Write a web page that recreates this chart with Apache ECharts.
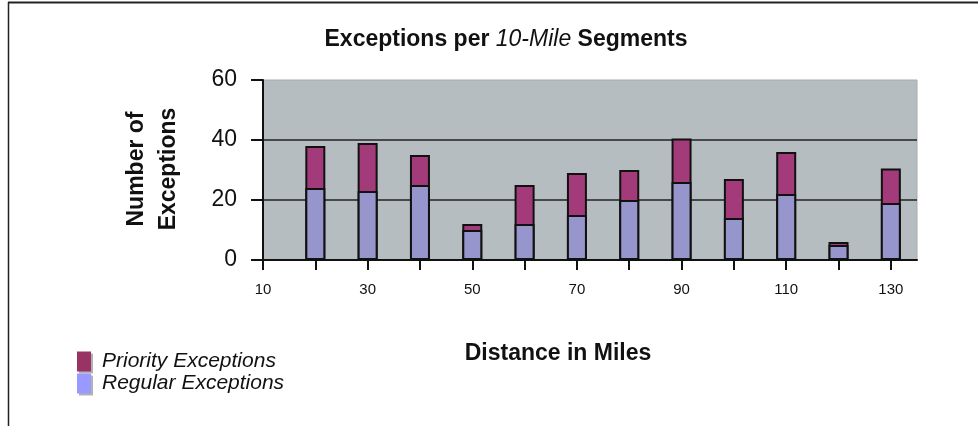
<!DOCTYPE html>
<html>
<head>
<meta charset="utf-8">
<script src="https://cdn.jsdelivr.net/npm/echarts@6/dist/echarts.min.js"></script>
<style>
html,body{margin:0;padding:0;background:#fff;}
#c{width:978px;height:426px;}
</style>
</head>
<body>
<div id="c"></div>
<script>
var distances = [20, 30, 40, 50, 60, 70, 80, 90, 100, 110, 120, 130];
var regular = [24, 23, 25, 10, 12, 15, 20, 26, 14, 22, 5, 19];
var priority = [14, 16, 10, 2, 13, 14, 10, 14.5, 13, 14, 1, 11.5];
var xTickLabels = [10, 30, 50, 70, 90, 110, 130];
var xTickMarks = [10, 20, 30, 40, 50, 60, 70, 80, 90, 100, 110, 120, 130];

var FONT = '"Liberation Sans", Arial, Helvetica, sans-serif';
// Stacked bars on a value x-axis: the priority segment sits on top of the regular one,
// so its bar spans from 0 to regular + priority and the regular bar is drawn over it.
var totals = regular.map(function(r, i){ return r + priority[i]; });
function pairs(vals){ return distances.map(function(d,i){ return [d, vals[i]]; }); }

var chart = echarts.init(document.getElementById('c'));
chart.setOption({
  animation: false,
  backgroundColor: '#ffffff',
  textStyle: { fontFamily: FONT },
  grid: {
    left: 263, right: 61, top: 80, bottom: 166,
    show: true, backgroundColor: '#b6bdc0', borderColor: '#a6acae', borderWidth: 1
  },
  legend: {
    orient: 'vertical', left: 72, top: 346,
    itemWidth: 14, itemHeight: 20, itemGap: 1,
    selectedMode: false,
    textStyle: { fontFamily: FONT, fontSize: 21, fontStyle: 'italic', color: '#111', padding: [0,0,0,6] },
    data: [
      { name: 'Priority Exceptions', icon: 'rect', itemStyle: { color: '#993366', borderWidth: 0, shadowColor: 'rgba(0,0,0,0.3)', shadowOffsetX: 2, shadowOffsetY: 2 } },
      { name: 'Regular Exceptions', icon: 'rect', itemStyle: { color: '#9999ff', borderWidth: 0, shadowColor: 'rgba(0,0,0,0.3)', shadowOffsetX: 2, shadowOffsetY: 2 } }
    ]
  },
  xAxis: {
    type: 'value', min: 10, max: 135, interval: 10,
    axisLine: { show: true, onZero: true, lineStyle: { color: '#111', width: 2 } },
    axisTick: { show: true, length: 10, inside: false, customValues: xTickMarks, lineStyle: { color: '#111', width: 2 } },
    axisLabel: { show: true, customValues: xTickLabels, fontSize: 15, color: '#111', margin: 22, fontFamily: FONT },
    splitLine: { show: false }
  },
  yAxis: {
    type: 'value', min: 0, max: 60, interval: 20,
    axisLine: { show: true, lineStyle: { color: '#111', width: 2 } },
    axisTick: { show: true, length: 12, inside: false, lineStyle: { color: '#111', width: 2 } },
    axisLabel: { fontSize: 23, color: '#111', margin: 26, fontFamily: FONT },
    splitLine: { show: true, showMinLine: false, showMaxLine: false, lineStyle: { color: '#222', width: 1.5 } }
  },
  series: [
    {
      name: 'Priority Exceptions', type: 'bar', barWidth: 20, barGap: '-100%',
      itemStyle: { color: '#a33b7a', borderColor: '#111', borderWidth: 2 },
      data: pairs(totals)
    },
    {
      name: 'Regular Exceptions', type: 'bar', barWidth: 20, barGap: '-100%',
      itemStyle: { color: '#9696cc', borderColor: '#111', borderWidth: 2 },
      data: pairs(regular)
    }
  ],
  graphic: [
    { type: 'line', shape: { x1: 8, y1: 2.5, x2: 978, y2: 2.5 }, style: { stroke: '#222', lineWidth: 2 } },
    { type: 'line', shape: { x1: 8.5, y1: 2, x2: 8.5, y2: 426 }, style: { stroke: '#222', lineWidth: 1.5 } },
    {
      type: 'text', x: 506, y: 40,
      style: {
        text: '{b|Exceptions per }{i|10-Mile}{b| Segments}',
        align: 'center', verticalAlign: 'middle',
        rich: {
          b: { fontFamily: FONT, fontSize: 23, fontWeight: 'bold', fill: '#111' },
          i: { fontFamily: FONT, fontSize: 23, fontStyle: 'italic', fill: '#111' }
        }
      }
    },
    {
      type: 'text', x: 153, y: 169, rotation: Math.PI / 2,
      style: {
        text: 'Number of\nExceptions', align: 'center', verticalAlign: 'middle',
        fontFamily: FONT, fontSize: 23, fontWeight: 'bold', fill: '#111', lineHeight: 32
      }
    },
    {
      type: 'text', x: 558, y: 354,
      style: {
        text: 'Distance in Miles', align: 'center', verticalAlign: 'middle',
        fontFamily: FONT, fontSize: 23, fontWeight: 'bold', fill: '#111'
      }
    }
  ]
});
</script>
</body>
</html>
